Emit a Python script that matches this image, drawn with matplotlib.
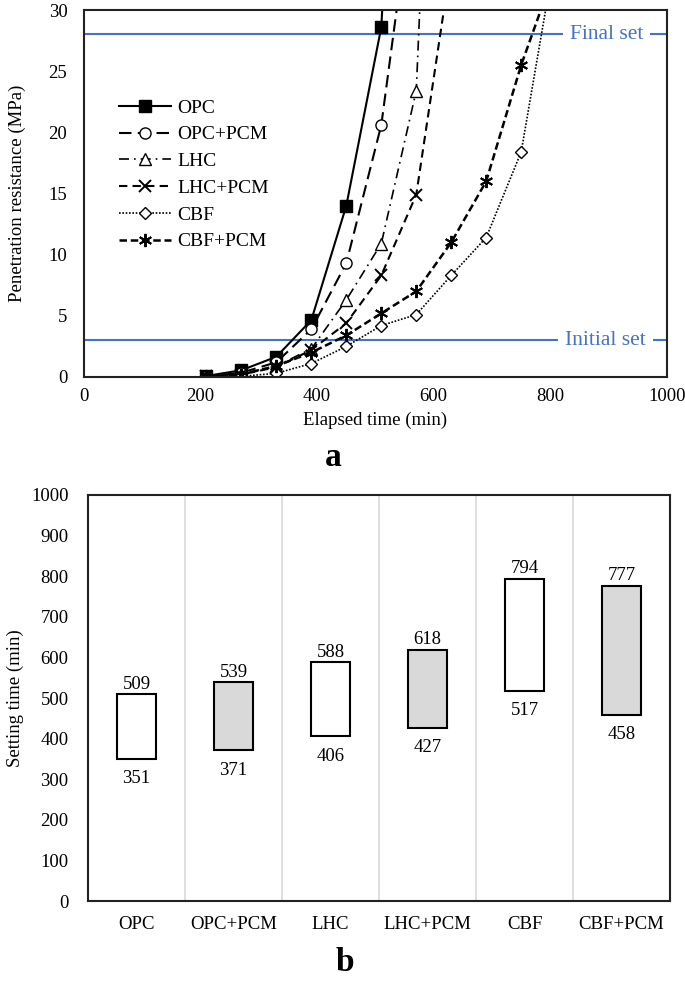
import matplotlib
matplotlib.use("Agg")
from matplotlib import pyplot as plt

plt.rcParams['font.family'] = ['Liberation Serif', 'DejaVu Serif']

# --- panel a: penetration resistance vs elapsed time ---
times = [210, 270, 330, 390, 450, 510, 570, 630, 690, 750, 810]
opc = [0.08, 0.55, 1.65, 4.65, 14.0, 28.6, 80]
opc_pcm = [0.05, 0.35, 1.2, 3.9, 9.3, 20.6, 42]
lhc = [0.05, 0.25, 0.9, 2.3, 6.3, 10.9, 23.4, 90]
lhc_pcm = [0.05, 0.2, 0.8, 2.2, 4.4, 8.3, 14.9, 34]
cbf = [0.0, 0.05, 0.3, 1.1, 2.5, 4.2, 5.1, 8.3, 11.4, 18.4, 35]
cbf_pcm = [0.05, 0.2, 0.9, 2.0, 3.4, 5.2, 7.0, 11.0, 16.0, 25.5, 33.5]
initial_set = 3.0
final_set = 28.0

# --- panel b: setting times ---
mixes = ['OPC', 'OPC+PCM', 'LHC', 'LHC+PCM', 'CBF', 'CBF+PCM']
initial_times = [351, 371, 406, 427, 517, 458]
final_times = [509, 539, 588, 618, 794, 777]

blue = '#4472C4'
fs = 13.5
fig = plt.figure(figsize=(6.85, 9.84), dpi=100)

ax1 = fig.add_axes([0.1226, 0.6169, 0.851, 0.3729])
series = [
    ('OPC', opc, dict(ls='-', marker='s', mfc='black', ms=8.5, lw=1.5)),
    ('OPC+PCM', opc_pcm, dict(ls=(0, (6, 3)), marker='o', mfc='white', ms=8, lw=1.5)),
    ('LHC', lhc, dict(ls=(0, (6, 3, 1, 3)), marker='^', mfc='white', ms=8.5, lw=1.2)),
    ('LHC+PCM', lhc_pcm, dict(ls=(0, (4, 2.5)), marker='x', mfc='white', ms=8.5, lw=1.5, mew=1.4)),
    ('CBF', cbf, dict(ls=(0, (1, 1)), marker='D', mfc='white', ms=6.5, lw=1.2)),
    ('CBF+PCM', cbf_pcm, dict(ls=(0, (3, 1.5)), marker=(6, 2, 0), mfc='white', ms=9.5, lw=1.8, mew=1.4)),
]
for name, vals, st in series:
    ax1.plot(times[:len(vals)], vals, color='black', mec='black', label=name, **st)

ax1.axhline(final_set, color=blue, lw=1.5, zorder=1)
ax1.axhline(initial_set, color=blue, lw=1.5, zorder=1)
ax1.text(897, final_set, 'Final set', color=blue, fontsize=15.5, ha='center', va='center',
         bbox=dict(facecolor='white', edgecolor='none', pad=5))
ax1.text(895, initial_set, 'Initial set', color=blue, fontsize=15.5, ha='center', va='center',
         bbox=dict(facecolor='white', edgecolor='none', pad=5))

ax1.set_xlim(0, 1000)
ax1.set_ylim(0, 30)
ax1.set_xticks(range(0, 1001, 200))
ax1.set_yticks(range(0, 31, 5))
ax1.tick_params(length=0, labelsize=fs)
ax1.tick_params(axis='x', pad=8)
ax1.tick_params(axis='y', pad=12)
for sp in ax1.spines.values():
    sp.set_linewidth(1.5)
    sp.set_color('#222222')
ax1.set_xlabel('Elapsed time (min)', fontsize=fs, labelpad=5)
ax1.set_ylabel('Penetration resistance (MPa)', fontsize=fs, labelpad=16)
ax1.legend(loc='upper left', bbox_to_anchor=(0.03, 0.805), frameon=False, fontsize=14,
           handlelength=2.7, handletextpad=0.3, labelspacing=0.47)
fig.text(0.486, 0.535, 'a', fontsize=24, fontweight='bold', ha='center', va='center')

# --- panel b ---
ax2 = fig.add_axes([0.1285, 0.0843, 0.8496, 0.4127])
pos = list(range(len(mixes)))
heights = [f - i for f, i in zip(final_times, initial_times)]
fills = ['white', '#D9D9D9'] * 3
ax2.bar(pos, heights, bottom=initial_times, width=0.4, color=fills,
        edgecolor='black', linewidth=1.5, zorder=3)
for p, lo, hi in zip(pos, initial_times, final_times):
    ax2.text(p, hi + 4, str(hi), ha='center', va='bottom', fontsize=fs)
    ax2.text(p, lo - 28, str(lo), ha='center', va='top', fontsize=fs)

ax2.set_xlim(-0.5, len(mixes) - 0.5)
ax2.set_ylim(0, 1000)
ax2.set_yticks(range(0, 1001, 100))
ax2.set_xticks(pos)
ax2.set_xticklabels(mixes)
for b in range(1, len(mixes)):
    ax2.axvline(b - 0.5, color='#D9D9D9', lw=1.2, zorder=1)
ax2.tick_params(length=0, labelsize=fs)
ax2.tick_params(axis='x', pad=11)
ax2.tick_params(axis='y', pad=14)
for sp in ax2.spines.values():
    sp.set_linewidth(1.5)
    sp.set_color('#222222')
ax2.set_ylabel('Setting time (min)', fontsize=fs, labelpad=5)
fig.text(0.504, 0.022, 'b', fontsize=24, fontweight='bold', ha='center', va='center')

fig.savefig('out.png', dpi=100)
